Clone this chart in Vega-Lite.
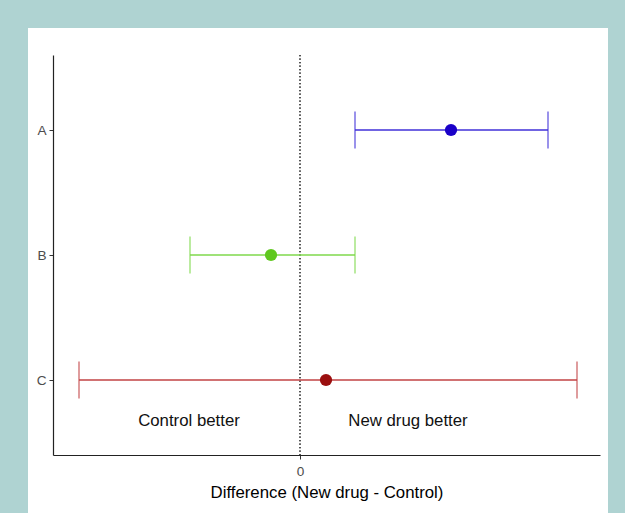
{
  "$schema": "https://vega.github.io/schema/vega-lite/v6.json",
  "width": 547,
  "height": 400,
  "autosize": {"type": "none"},
  "padding": {"left": 53, "top": 55, "right": 25, "bottom": 58},
  "background": "#afd3d2",
  "config": {"view": {"stroke": null}, "font": "Liberation Sans", "axis": {"zindex": 2}},
  "datasets": {
    "panel": [{}],
    "ci": [
      {"group": "A", "est": 1.51, "lo": 0.55, "hi": 2.48},
      {"group": "B", "est": -0.29, "lo": -1.10, "hi": 0.55},
      {"group": "C", "est": 0.26, "lo": -2.21, "hi": 2.77}
    ],
    "labels": [
      {"label": "Control better", "pos": -1.11},
      {"label": "New drug better", "pos": 1.08}
    ]
  },
  "layer": [
    {
      "data": {"name": "panel"},
      "mark": {"type": "rect", "fill": "white", "clip": false},
      "encoding": {
        "x": {
          "datum": -2.72,
          "type": "quantitative",
          "scale": {"domain": [-2.47, 3.0], "nice": false, "zero": false},
          "axis": {
            "values": [0],
            "format": "d",
            "zindex": 2,
            "title": "Difference (New drug - Control)",
            "titleFontSize": 16.8,
            "titleFontWeight": "normal",
            "titleColor": "black",
            "titlePadding": 7,
            "domainColor": "#222222",
            "domainWidth": 1.2,
            "tickColor": "#333333",
            "tickSize": 4,
            "labelColor": "#4d4d4d",
            "labelFontSize": 13.6,
            "labelPadding": 5,
            "grid": false
          }
        },
        "x2": {"datum": 3.08},
        "y": {"datum": 1.0675, "type": "quantitative", "scale": {"domain": [0, 1], "nice": false, "zero": false}, "axis": null},
        "y2": {"datum": -0.16}
      }
    },
    {
      "data": {"name": "ci"},
      "encoding": {
        "y": {
          "field": "group",
          "type": "nominal",
          "scale": {"type": "point", "domain": ["A", "B", "C"], "padding": 0.6},
          "axis": {
            "orient": "left",
            "zindex": 2,
            "title": null,
            "domainColor": "#222222",
            "domainWidth": 1.2,
            "tickColor": "#333333",
            "tickSize": 4,
            "tickWidth": 1,
            "labelColor": "#4d4d4d",
            "labelFontSize": 13.6,
            "labelPadding": 3,
            "grid": false
          }
        }
      },
      "layer": [
        {
          "mark": {"type": "rule", "strokeDash": [1.2, 2.3], "color": "#444444", "strokeWidth": 1.1},
          "encoding": {
            "x": {"datum": 0, "type": "quantitative"},
            "y": null
          }
        },
        {
          "mark": {"type": "rule", "strokeWidth": 1.5},
          "encoding": {
            "x": {
              "field": "lo",
              "type": "quantitative",
              "scale": {"domain": [-2.47, 3.0], "nice": false, "zero": false},
              "axis": {
                "values": [0],
                "format": "d",
                "zindex": 2,
                "title": "Difference (New drug - Control)",
                "titleFontSize": 16.8,
                "titleFontWeight": "normal",
                "titleColor": "black",
                "titlePadding": 7,
                "domainColor": "#222222",
                "domainWidth": 1.2,
                "tickColor": "#333333",
                "tickSize": 4,
                "labelColor": "#4d4d4d",
                "labelFontSize": 13.6,
                "labelPadding": 5,
                "grid": false
              }
            },
            "x2": {"field": "hi"},
            "stroke": {"field": "group", "type": "nominal", "scale": {"domain": ["A", "B", "C"], "range": ["#4030d8", "#7fd94c", "#c24345"]}, "legend": null}
          }
        },
        {
          "mark": {"type": "tick", "size": 37, "thickness": 1.5},
          "encoding": {
            "x": {"field": "lo", "type": "quantitative"},
            "color": {"field": "group", "type": "nominal", "scale": {"domain": ["A", "B", "C"], "range": ["#4030d8", "#7fd94c", "#c24345"]}, "legend": null}
          }
        },
        {
          "mark": {"type": "tick", "size": 37, "thickness": 1.5},
          "encoding": {
            "x": {"field": "hi", "type": "quantitative"},
            "color": {"field": "group", "type": "nominal", "scale": {"domain": ["A", "B", "C"], "range": ["#4030d8", "#7fd94c", "#c24345"]}, "legend": null}
          }
        },
        {
          "mark": {"type": "circle", "size": 150, "opacity": 1},
          "encoding": {
            "x": {"field": "est", "type": "quantitative"},
            "fill": {"field": "group", "type": "nominal", "scale": {"domain": ["A", "B", "C"], "range": ["#1a00c8", "#5fc81e", "#9b0f0f"]}, "legend": null}
          }
        },
        {
          "data": {"name": "labels"},
          "mark": {"type": "text", "fontSize": 16.8, "color": "#111111", "baseline": "middle", "align": "center", "dy": 41},
          "encoding": {
            "x": {"field": "pos", "type": "quantitative"},
            "y": {"datum": "C", "type": "nominal"},
            "text": {"field": "label"}
          }
        }
      ]
    }
  ],
  "resolve": {"scale": {"y": "independent"}}
}
